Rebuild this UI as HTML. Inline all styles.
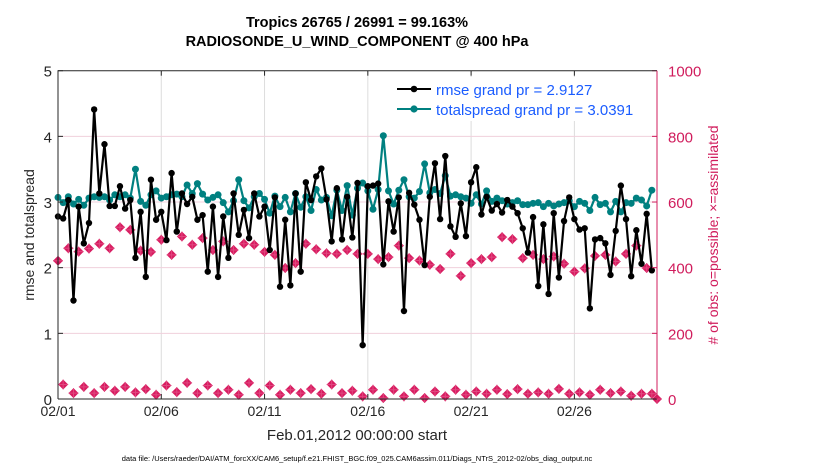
<!DOCTYPE html>
<html><head><meta charset="utf-8"><style>
body{margin:0;background:#fff;}
svg{display:block;font-family:"Liberation Sans",sans-serif;}
</style></head><body>
<svg id="chart" width="830" height="470" viewBox="0 0 830 470" xmlns="http://www.w3.org/2000/svg">
<g>
<text x="357" y="27" text-anchor="middle" font-size="14.5" font-weight="bold">Tropics 26765 / 26991 = 99.163%</text>
<text x="357" y="46" text-anchor="middle" font-size="14.5" font-weight="bold">RADIOSONDE_U_WIND_COMPONENT @ 400 hPa</text>
</g>
<g id="grid"></g>
<g id="marks"></g>
<g id="axes"></g>
<text transform="translate(34,235) rotate(-90)" text-anchor="middle" font-size="14" fill="#262626">rmse and totalspread</text>
<text transform="translate(718,235) rotate(-90)" text-anchor="middle" font-size="14" fill="#d01c5c"># of obs: o=possible; ×=assimilated</text>
<text x="357" y="440" text-anchor="middle" font-size="15" fill="#262626">Feb.01,2012 00:00:00 start</text>
<text x="357" y="461" text-anchor="middle" font-size="7.5" fill="#000">data file: /Users/raeder/DAI/ATM_forcXX/CAM6_setup/f.e21.FHIST_BGC.f09_025.CAM6assim.011/Diags_NTrS_2012-02/obs_diag_output.nc</text>
<g>
<rect x="388" y="77" width="262" height="44" fill="#fff"/>
<line x1="397" y1="89" x2="431" y2="89" stroke="#000" stroke-width="2"/><circle cx="414" cy="89" r="3.3" fill="#000"/>
<text x="436" y="95" font-size="15" fill="#1a5cff">rmse grand pr = 2.9127</text>
<line x1="397" y1="109" x2="431" y2="109" stroke="#008080" stroke-width="2"/><circle cx="414" cy="109" r="3.6" fill="#008080"/>
<text x="436" y="115" font-size="15" fill="#1a5cff">totalspread grand pr = 3.0391</text>
</g>
</svg>
<script>
const rmse=[2.78,2.75,3.03,1.50,2.93,2.37,2.68,4.41,3.13,3.88,2.94,2.94,3.24,2.90,3.03,2.15,2.85,1.86,3.34,2.73,2.85,2.42,3.44,2.55,3.13,2.97,3.08,2.73,2.80,1.94,2.93,1.86,2.78,2.15,3.13,2.50,2.88,2.45,3.13,2.78,2.93,2.27,3.07,1.71,2.73,1.73,3.13,1.94,3.30,3.03,3.39,3.51,3.04,2.40,3.21,2.43,3.08,2.46,3.29,0.82,3.24,3.25,3.28,2.05,3.01,2.55,3.07,1.34,3.14,2.96,2.73,2.04,3.08,3.59,2.74,3.70,2.63,2.47,2.98,2.48,3.30,3.53,2.81,3.08,2.87,2.97,2.84,3.03,2.93,2.83,2.60,2.23,2.77,1.72,2.66,1.60,2.83,1.85,2.71,3.07,2.74,2.58,2.60,1.38,2.43,2.45,2.37,1.89,2.56,3.25,2.74,1.87,2.57,2.06,2.82,1.96];
const spread=[3.07,2.99,3.08,2.97,3.04,2.95,3.06,3.08,3.07,3.08,3.03,3.11,3.08,3.11,3.06,3.50,3.01,2.95,3.11,3.17,3.06,3.08,3.11,3.12,3.08,3.26,3.13,3.28,3.12,3.03,3.07,3.11,2.99,2.85,3.02,3.34,3.02,2.91,3.08,3.13,3.04,2.83,3.09,2.93,3.07,2.85,3.13,2.92,3.08,2.87,3.19,3.03,3.07,2.79,3.18,2.87,3.25,2.80,3.21,3.29,3.17,2.89,3.19,4.01,3.17,2.97,3.18,3.34,3.08,3.06,3.16,3.58,3.14,3.19,3.13,3.40,3.09,3.11,3.08,3.06,2.98,3.11,2.97,3.17,3.01,3.06,3.02,2.97,2.99,3.02,2.96,2.96,2.98,2.99,2.93,2.98,2.94,2.97,2.99,3.02,2.93,3.01,2.98,2.87,3.07,2.96,2.98,2.85,3.01,2.85,2.99,2.98,3.06,3.03,2.94,3.18];
const obsCount=[421,44,459,18,449,37,458,18,473,37,459,25,523,37,515,20,452,30,448,13,485,41,439,21,495,49,470,18,490,41,454,18,480,28,454,13,473,49,470,18,448,41,439,13,399,28,414,18,473,30,456,16,444,44,442,18,454,25,442,8,442,28,426,3,432,28,467,8,429,28,422,3,409,23,396,8,442,28,375,13,414,23,426,16,432,28,493,15,487,30,429,16,439,20,426,16,434,31,412,16,388,20,398,13,436,28,439,18,419,23,442,10,467,16,399,16,0];
const xTickLabels=["02/01","02/06","02/11","02/16","02/21","02/26"];
const yLeftTicks=[0,1,2,3,4,5];
const yRightTicks=[0,200,400,600,800,1000];
const STEP=0.25; // days between samples
const NS="http://www.w3.org/2000/svg";
const X0=58,X1=657,YT=70.7,YB=399,DAYS=29;
const xs=d=>X0+(X1-X0)*d/DAYS;
const yl=v=>YB-(YB-YT)*v/5;
const yr=v=>YB-(YB-YT)*v/1000;
function mk(tag,attrs,parent){const e=document.createElementNS(NS,tag);for(const k in attrs)e.setAttribute(k,attrs[k]);parent.appendChild(e);return e;}
const grid=document.getElementById('grid'),marks=document.getElementById('marks'),axes=document.getElementById('axes');
xTickLabels.forEach((t,i)=>{const x=xs(i*5);
 if(i>0){const l=mk('line',{x1:x,x2:x,y1:YT,y2:YB,stroke:'#dcdcdc','stroke-width':1},grid);}
 const tk=mk('line',{x1:x,x2:x,y1:YB,y2:YB-5,stroke:'#262626'},axes);
 const tk2=mk('line',{x1:x,x2:x,y1:YT,y2:YT+5,stroke:'#262626'},axes);
 const tx=mk('text',{x:x,y:416,'text-anchor':'middle','font-size':14,fill:'#262626'},axes);tx.textContent=t;});
yRightTicks.forEach(v=>{const y=yr(v);
 if(v>0&&v<1000){const l=mk('line',{x1:X0,x2:X1,y1:y,y2:y,stroke:'#f0d0dc','stroke-width':1},grid);}
 const tk=mk('line',{x1:X1,x2:X1-5,y1:y,y2:y,stroke:'#d01c5c'},axes);
 const tx=mk('text',{x:X1+11,y:y+6,'font-size':15,fill:'#d01c5c'},axes);tx.textContent=v;});
yLeftTicks.forEach(v=>{const y=yl(v);
 const tk=mk('line',{x1:X0,x2:X0+5,y1:y,y2:y,stroke:'#262626'},axes);
 const tx=mk('text',{x:X0-6,y:y+6,'text-anchor':'end','font-size':15,fill:'#262626'},axes);tx.textContent=v;});
const fr=mk('path',{d:`M${X0},${YB}V${YT}H${X1}`,fill:'none',stroke:'#262626'},axes);
const bx=mk('line',{x1:X0,x2:X1,y1:YB,y2:YB,stroke:'#262626'},axes);
const ry=mk('line',{x1:X1,x2:X1,y1:YT,y2:YB,stroke:'#d01c5c'},axes);
// obs markers
obsCount.forEach((v,i)=>{const x=xs(i*STEP),y=yr(v);
 const g=mk('g',{},marks);
 mk('path',{d:`M${x},${y-5}L${x+5},${y}L${x},${y+5}L${x-5},${y}Z`,fill:'#d81b60'},g);
 mk('path',{d:`M${x-5},${y}H${x+5}M${x},${y-5}V${y+5}`,stroke:'#e0487f','stroke-width':1},g);});
function series(arr,color,r,name){
 const p=mk('polyline',{points:arr.map((v,i)=>xs(i*STEP)+','+yl(v)).join(' '),fill:'none',stroke:color,'stroke-width':2.2,'stroke-linejoin':'round'},marks);
 
 arr.forEach((v,i)=>{const c=mk('circle',{cx:xs(i*STEP),cy:yl(v),r:r,fill:color},marks);});}
series(spread,'#008080',3.5,'totalspread');
series(rmse,'#000',3.2,'rmse');
</script>
</body></html>
